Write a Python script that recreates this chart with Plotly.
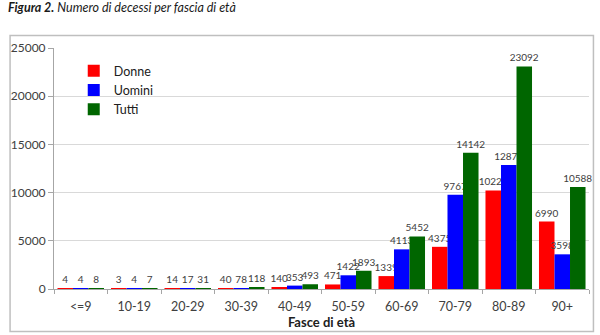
import plotly.graph_objects as go

# Decessi per fascia di età
fasce = ["<=9", "10-19", "20-29", "30-39", "40-49", "50-59", "60-69", "70-79", "80-89", "90+"]
donne = [4, 3, 14, 40, 140, 471, 1339, 4375, 10222, 6990]
uomini = [4, 4, 17, 78, 353, 1422, 4113, 9767, 12870, 3598]
tutti = [8, 7, 31, 118, 493, 1893, 5452, 14142, 23092, 10588]

serie = [("Donne", donne, "#FF0000"), ("Uomini", uomini, "#0000FF"), ("Tutti", tutti, "#006600")]

FONT = "Lato, 'Open Sans', sans-serif"

fig = go.Figure()
for nome, valori, colore in serie:
    fig.add_trace(go.Bar(
        name=nome, x=fasce, y=valori,
        marker=dict(color=colore, line=dict(width=0)),
        text=[str(v) for v in valori], textposition="outside",
        textfont=dict(size=10, color="#404040", family=FONT),
        constraintext="none", cliponaxis=False,
    ))

W, H = 600, 335
L, R, T, B = 47, 11, 48, 46
pw, ph = W - L - R, H - T - B

def px_x(px):
    return (px - L) / pw

def px_y(py):
    return (H - B - py) / ph

fig.update_layout(
    width=W, height=H,
    margin=dict(l=L, r=R, t=T, b=B),
    paper_bgcolor="white", plot_bgcolor="white",
    barmode="group", bargap=0.13, bargroupgap=0,
    font=dict(family=FONT, size=12, color="#404040"),
    title=dict(
        text="<b><i>Figura 2.</i></b><i> Numero di decessi per fascia di età</i>",
        x=8 / W, xref="container", xanchor="left",
        y=1 - 8 / H, yref="container", yanchor="middle",
        font=dict(size=12.5, color="#1a1a1a", family=FONT),
    ),
    legend=dict(
        x=px_x(67), y=px_y(56), xanchor="left", yanchor="top",
        bgcolor="rgba(0,0,0,0)", font=dict(size=12.5, color="#202020", family=FONT),
        itemwidth=30, tracegroupgap=0,
    ),
    xaxis=dict(
        showline=True, linecolor="#a6a6a6", linewidth=1,
        ticks="outside", tickson="boundaries", ticklen=4, tickcolor="#a6a6a6",
        tickfont=dict(size=12.5, color="#404040"), ticklabelstandoff=6,
        title=dict(text="<b>Fasce di età</b>", font=dict(size=13, color="#202020"), standoff=0),
    ),
    yaxis=dict(
        range=[0, 25000], dtick=5000, tickformat="d",
        showgrid=True, gridcolor="#d9d9d9", gridwidth=1,
        showline=True, linecolor="#a6a6a6", linewidth=1,
        ticks="outside", ticklen=5, tickcolor="#a6a6a6",
        tickfont=dict(size=12, color="#404040"),
        zeroline=False,
    ),
    shapes=[dict(
        type="rect", xref="paper", yref="paper",
        x0=px_x(2.5), x1=px_x(593.5), y0=px_y(331.5), y1=px_y(35.5),
        line=dict(color="#bfbfbf", width=1.5), fillcolor="rgba(0,0,0,0)", layer="below",
    )],
)

fig.write_html("out.html")
